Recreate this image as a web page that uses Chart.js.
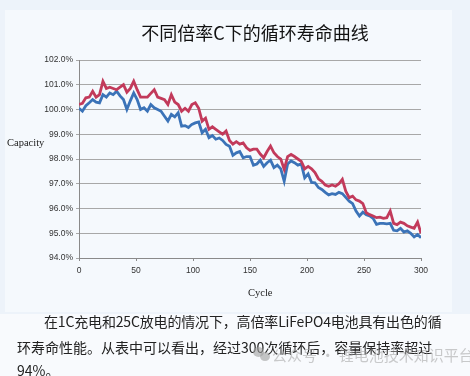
<!DOCTYPE html>
<html>
<head>
<meta charset="utf-8">
<script src="https://cdn.jsdelivr.net/npm/chart.js@4/dist/chart.umd.min.js"></script>
<style>
  html, body { margin: 0; padding: 0; }
  body { width: 470px; height: 376px; background: #f8fafd; position: relative; overflow: hidden; font-family: "Noto Sans CJK SC", sans-serif; }
  #band { position: absolute; left: 0; top: 0; width: 470px; height: 314px; background: #edf3fa; }
  #card { position: absolute; left: 5px; top: 10px; width: 447px; height: 302px; background: #f5f9fd; }
  #wrap { position: absolute; left: 0; top: 0; width: 470px; height: 310px; }
  #title { position: absolute; left: 0; width: 510px; top: 19px; text-align: center; font-size: 18px; color: #111; white-space: nowrap; }
  .axt { position: absolute; font-family: "Liberation Serif", serif; font-size: 10.5px; color: #222; white-space: nowrap; }
  .para { position: absolute; font-size: 14px; color: #222; white-space: nowrap; line-height: 16px; }
  #wm { position: absolute; left: 272px; top: 344px; font-size: 15px; color: rgba(160,160,160,0.55); white-space: nowrap; }
  .dot { position: absolute; border-radius: 50%; background: rgba(160,160,160,0.6); }
</style>
</head>
<body>
<div id="band"></div>
<div id="card"></div>
<div id="wrap"><canvas id="c" width="470" height="310"></canvas></div>
<div id="title">不同倍率C下的循环寿命曲线</div>
<div class="axt" style="left:7px; top:137px;">Capacity</div>
<div class="axt" style="left:248px; top:287px;">Cycle</div>
<div class="para" style="left:44px; top:313px; letter-spacing:-0.16px;">在1C充电和25C放电的情况下，高倍率LiFePO4电池具有出色的循</div>
<div class="para" style="left:17px; top:339px;">环寿命性能。从表中可以看出，经过300次循环后，容量保持率超过</div>
<div class="para" style="left:17px; top:362px;">94%。</div>
<div class="dot" style="left:253px; top:347px; width:11px; height:10px;"></div>
<div class="dot" style="left:260px; top:352px; width:10px; height:9px;"></div>
<div id="wm">公众号 · 锂电池技术知识平台</div>
<script>
const cycles = [0,3,6,9,12,15,18,21,24,27,30,33,36,39,42,45,48,51,54,57,60,63,66,69,72,75,78,81,84,87,90,93,96,99,102,105,108,111,114,117,120,123,126,129,132,135,138,141,144,147,150,153,156,159,162,165,168,171,174,177,180,183,186,189,192,195,198,201,204,207,210,213,216,219,222,225,228,231,234,237,240,243,246,249,252,255,258,261,264,267,270,273,276,279,282,285,288,291,294,297,300];
const blueCapacity = [100.05,99.93,100.15,100.27,100.4,100.3,100.27,100.6,100.5,100.67,100.6,100.74,100.55,100.4,100.0,100.35,100.67,100.4,100.0,100.07,99.93,100.2,100.07,100.0,99.93,99.73,99.53,99.8,99.7,99.87,99.33,99.35,99.27,99.4,99.46,99.5,99.06,99.2,98.86,98.95,98.8,98.85,98.75,98.59,98.52,98.15,98.25,98.3,98.05,98.1,98.1,97.75,97.8,97.95,97.7,97.85,97.95,97.65,97.75,97.6,97.1,97.8,97.92,97.85,97.75,97.8,97.24,97.4,97.05,97.04,96.85,96.77,96.65,96.55,96.6,96.57,96.65,96.6,96.45,96.3,96.2,95.9,95.7,95.85,95.75,95.7,95.6,95.36,95.4,95.4,95.38,95.4,95.12,95.1,95.2,95.05,95.1,95.0,94.85,94.95,94.82];
const redCapacity = [100.2,100.25,100.47,100.5,100.74,100.5,100.6,101.14,100.85,100.9,100.85,100.8,100.9,101.0,100.7,100.85,101.14,100.8,100.5,100.5,100.5,100.65,100.8,100.5,100.45,100.4,100.2,100.6,100.3,100.2,99.93,100.05,99.93,100.2,100.27,100.05,99.53,99.65,99.2,99.3,99.2,99.1,99.0,99.13,98.75,98.6,98.7,98.6,98.65,98.45,98.35,98.4,98.4,98.2,98.05,98.3,98.52,98.25,98.1,98.0,97.58,98.1,98.19,98.1,98.0,97.9,97.6,97.7,97.6,97.45,97.2,97.1,96.95,96.9,96.95,96.9,97.0,97.18,96.7,96.44,96.5,96.35,96.3,96.2,95.83,95.75,95.7,95.63,95.65,95.6,95.63,95.9,95.4,95.35,95.45,95.4,95.3,95.25,95.2,95.45,95.0];
const yTicks = [94,95,96,97,98,99,100,101,102];
const xTicks = [0,50,100,150,200,250,300];

const toPts = (vals) => cycles.map((c, i) => ({ x: c, y: vals[i] }));
const tickFont = { family: "'Liberation Sans', Arial, sans-serif", size: 8.5 };

new Chart(document.getElementById('c'), {
  type: 'line',
  data: {
    datasets: [
      { label: 'red', data: toPts(redCapacity), borderColor: '#c23a5b', borderWidth: 2.8, pointRadius: 0, tension: 0, fill: false },
      { label: 'blue', data: toPts(blueCapacity), borderColor: '#3b73b8', borderWidth: 2.8, pointRadius: 0, tension: 0, fill: false }
    ]
  },
  options: {
    responsive: false,
    animation: false,
    events: [],
    layout: { padding: { left: 0, right: 49, top: 60, bottom: 32 } },
    plugins: { legend: { display: false }, title: { display: false }, tooltip: { enabled: false } },
    scales: {
      x: {
        type: 'linear', min: 0, max: 300,
        afterBuildTicks: (s) => { s.ticks = xTicks.map(v => ({ value: v })); },
        afterFit: (s) => { s.height = 20; },
        ticks: { font: tickFont, color: '#333', padding: 5, maxRotation: 0 },
        grid: { drawOnChartArea: false, drawTicks: true, tickLength: 3, color: '#8a8a8a' },
        border: { color: '#8a8a8a', width: 1 }
      },
      y: {
        min: 94, max: 102,
        afterBuildTicks: (s) => { s.ticks = yTicks.map(v => ({ value: v })); },
        afterFit: (s) => { s.width = 79; },
        ticks: { font: tickFont, color: '#333', padding: 3, callback: (v) => v.toFixed(1) + '%' },
        grid: { color: '#a8a8a8', lineWidth: 1, tickLength: 3, drawTicks: true },
        border: { color: '#8a8a8a', width: 1 }
      }
    }
  }
});
</script>
</body>
</html>
